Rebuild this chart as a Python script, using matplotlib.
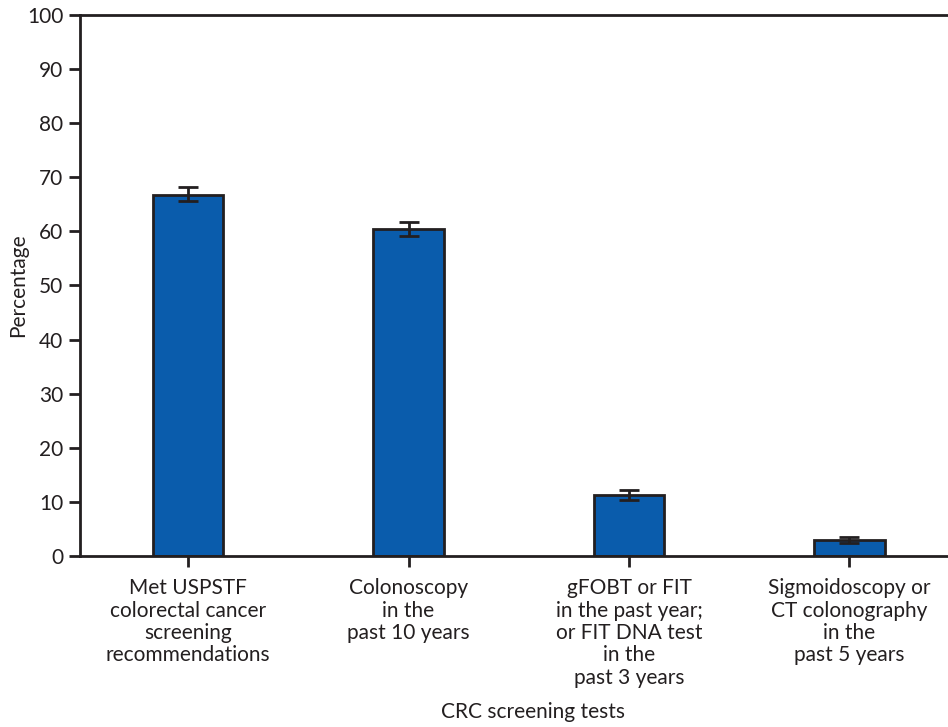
import numpy as np
import matplotlib.pyplot as plt

plt.rcParams['font.family'] = ['Lato', 'DejaVu Sans']

categories = ['Met USPSTF\ncolorectal cancer\nscreening\nrecommendations',
              'Colonoscopy\nin the\npast 10 years',
              'gFOBT or FIT\nin the past year;\nor FIT DNA test\nin the\npast 3 years',
              'Sigmoidoscopy or\nCT colonography\nin the\npast 5 years']
values = [66.7, 60.4, 11.3, 3.0]
ci_low = [65.6, 59.1, 10.4, 2.4]
ci_high = [68.2, 61.7, 12.2, 3.5]

dark = '#231f20'
x = np.arange(len(categories))
yerr = [np.array(values) - np.array(ci_low), np.array(ci_high) - np.array(values)]

fig = plt.figure(figsize=(9.48, 7.27), dpi=100)
ax = fig.add_axes([0.0844, 0.2352, 0.9156, 0.7442])
ax.bar(x, values, width=0.32, color='#0a5cac', edgecolor=dark, linewidth=2,
       yerr=yerr, error_kw=dict(ecolor=dark, elinewidth=2, capsize=7, capthick=2))

ax.set_xlim(-0.49, 3.447)
ax.set_ylim(0, 100)
ax.set_yticks(range(0, 101, 10))
ax.set_xticks(x)
ax.set_xticklabels(categories, fontsize=15, linespacing=1.15)
ax.tick_params(axis='y', labelsize=15, colors=dark, width=2, length=8, pad=4)
ax.tick_params(axis='x', colors=dark, width=2, length=8, pad=8)
for lab in ax.get_xticklabels() + ax.get_yticklabels():
    lab.set_color(dark)
for s in ['left', 'bottom', 'top']:
    ax.spines[s].set_linewidth(2)
    ax.spines[s].set_color(dark)
ax.spines['right'].set_visible(False)

ax.set_ylabel('Percentage', fontsize=15, color=dark)
ax.yaxis.set_label_coords(-0.060, 0.5)
ax.set_xlabel('CRC screening tests', fontsize=15, color=dark)
ax.xaxis.set_label_coords(0.522, -0.27)

fig.savefig('out.png', dpi=100)
